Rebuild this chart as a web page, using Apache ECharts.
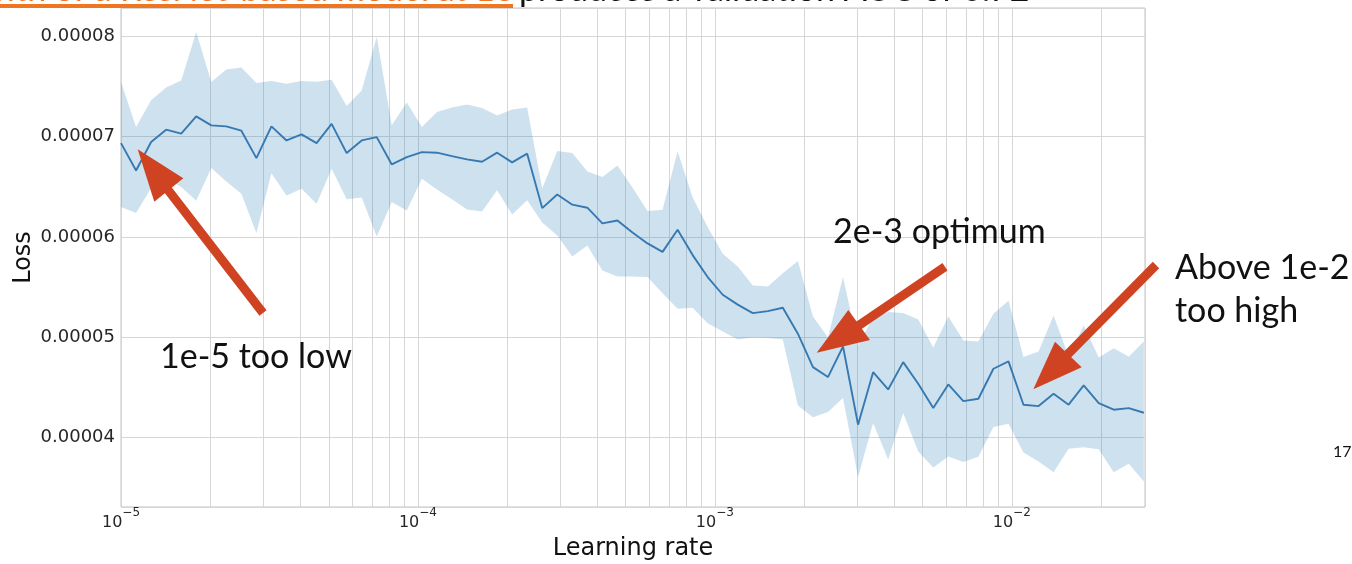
<!DOCTYPE html>
<html>
<head>
<meta charset="utf-8">
<script src="https://cdn.jsdelivr.net/npm/echarts@6.0.0/dist/echarts.min.js"></script>
<style>
  html, body { margin: 0; padding: 0; background: #fff; }
  #chart { width: 1352px; height: 564px; }
</style>
</head>
<body>
<div id="chart"></div>
<script>
// learning rates of the sweep (log spaced)
const learningRate = [
  1.000e-5, 1.124e-5, 1.263e-5, 1.419e-5, 1.595e-5, 1.792e-5, 2.014e-5, 2.263e-5, 2.543e-5, 2.858e-5,
  3.211e-5, 3.609e-5, 4.055e-5, 4.557e-5, 5.121e-5, 5.754e-5, 6.466e-5, 7.266e-5, 8.165e-5, 9.175e-5,
  1.031e-4, 1.159e-4, 1.302e-4, 1.463e-4, 1.644e-4, 1.848e-4, 2.076e-4, 2.333e-4, 2.622e-4, 2.946e-4,
  3.311e-4, 3.720e-4, 4.181e-4, 4.698e-4, 5.279e-4, 5.932e-4, 6.666e-4, 7.491e-4, 8.418e-4, 9.457e-4,
  1.063e-3, 1.194e-3, 1.342e-3, 1.508e-3, 1.694e-3, 1.904e-3, 2.140e-3, 2.404e-3, 2.702e-3, 3.036e-3,
  3.412e-3, 3.834e-3, 4.308e-3, 4.841e-3, 5.440e-3, 6.113e-3, 6.869e-3, 7.719e-3, 8.674e-3, 9.749e-3,
  1.095e-2, 1.231e-2, 1.383e-2, 1.554e-2, 1.747e-2, 1.963e-2, 2.205e-2, 2.478e-2, 2.785e-2
]

const lossMean = [
  6.934e-5, 6.662e-5, 6.946e-5, 7.068e-5, 7.028e-5, 7.200e-5, 7.111e-5, 7.101e-5, 7.058e-5, 6.785e-5,
  7.101e-5, 6.961e-5, 7.021e-5, 6.934e-5, 7.126e-5, 6.835e-5, 6.961e-5, 6.994e-5, 6.722e-5, 6.795e-5,
  6.845e-5, 6.839e-5, 6.805e-5, 6.772e-5, 6.749e-5, 6.839e-5, 6.742e-5, 6.829e-5, 6.287e-5, 6.423e-5,
  6.321e-5, 6.291e-5, 6.135e-5, 6.164e-5, 6.045e-5, 5.935e-5, 5.851e-5, 6.072e-5, 5.819e-5, 5.600e-5,
  5.424e-5, 5.326e-5, 5.241e-5, 5.261e-5, 5.295e-5, 5.036e-5, 4.703e-5, 4.604e-5, 4.909e-5, 4.130e-5,
  4.653e-5, 4.481e-5, 4.753e-5, 4.538e-5, 4.295e-5, 4.531e-5, 4.365e-5, 4.388e-5, 4.687e-5, 4.760e-5,
  4.329e-5, 4.315e-5, 4.438e-5, 4.329e-5, 4.521e-5, 4.345e-5, 4.279e-5, 4.295e-5, 4.249e-5
]

const lossUpper = [
  7.542e-5, 7.094e-5, 7.360e-5, 7.489e-5, 7.559e-5, 8.040e-5, 7.542e-5, 7.668e-5, 7.688e-5, 7.532e-5,
  7.554e-5, 7.526e-5, 7.554e-5, 7.546e-5, 7.566e-5, 7.305e-5, 7.459e-5, 7.990e-5, 7.111e-5, 7.340e-5,
  7.094e-5, 7.243e-5, 7.290e-5, 7.320e-5, 7.285e-5, 7.210e-5, 7.270e-5, 7.290e-5, 6.483e-5, 6.855e-5,
  6.835e-5, 6.652e-5, 6.596e-5, 6.712e-5, 6.493e-5, 6.257e-5, 6.271e-5, 6.852e-5, 6.396e-5, 6.098e-5,
  5.833e-5, 5.706e-5, 5.517e-5, 5.507e-5, 5.637e-5, 5.761e-5, 5.208e-5, 4.999e-5, 5.600e-5, 4.919e-5,
  5.201e-5, 5.251e-5, 5.241e-5, 5.178e-5, 4.899e-5, 5.208e-5, 4.969e-5, 4.959e-5, 5.235e-5, 5.365e-5,
  4.803e-5, 4.860e-5, 5.218e-5, 4.810e-5, 5.118e-5, 4.800e-5, 4.890e-5, 4.807e-5, 4.959e-5
]

const lossLower = [
  6.299e-5, 6.237e-5, 6.488e-5, 6.583e-5, 6.496e-5, 6.361e-5, 6.687e-5, 6.551e-5, 6.430e-5, 6.040e-5,
  6.633e-5, 6.413e-5, 6.480e-5, 6.331e-5, 6.679e-5, 6.376e-5, 6.393e-5, 6.005e-5, 6.347e-5, 6.264e-5,
  6.580e-5, 6.473e-5, 6.374e-5, 6.274e-5, 6.254e-5, 6.466e-5, 6.224e-5, 6.364e-5, 6.144e-5, 6.015e-5,
  5.806e-5, 5.915e-5, 5.666e-5, 5.607e-5, 5.607e-5, 5.600e-5, 5.440e-5, 5.285e-5, 5.295e-5, 5.139e-5,
  5.059e-5, 4.979e-5, 4.999e-5, 4.994e-5, 4.979e-5, 4.322e-5, 4.205e-5, 4.255e-5, 4.396e-5, 3.608e-5,
  4.147e-5, 3.784e-5, 4.247e-5, 3.864e-5, 3.704e-5, 3.814e-5, 3.757e-5, 3.811e-5, 4.106e-5, 4.140e-5,
  3.852e-5, 3.764e-5, 3.657e-5, 3.891e-5, 3.906e-5, 3.884e-5, 3.657e-5, 3.741e-5, 3.565e-5
]

const yTicks = [4e-5, 5e-5, 6e-5, 7e-5, 8e-5]
const xDecades = [1e-5, 1e-4, 1e-3, 1e-2]
const minorGridLr = [
  2e-5, 3e-5, 4e-5, 5e-5, 6e-5, 7e-5, 8e-5, 9e-5,
  2e-4, 3e-4, 4e-4, 5e-4, 6e-4, 7e-4, 8e-4, 9e-4,
  2e-3, 3e-3, 4e-3, 5e-3, 6e-3, 7e-3, 8e-3, 9e-3,
  2e-2
]

const gridColor = '#d6d6d6'
const arrowColor = '#cf4322'
const noteFont = 'Lato, "Open Sans", sans-serif'

function arrow(tail, neck, tip, c1, c2) {
  return [
    { type: 'line', silent: true, z: 100, shape: { x1: tail[0], y1: tail[1], x2: neck[0], y2: neck[1] },
      style: { stroke: arrowColor, lineWidth: 9 } },
    { type: 'polygon', silent: true, z: 100, shape: { points: [tip, c1, c2] }, style: { fill: arrowColor } },
  ]
}

function note(text, x, y, size) {
  return { type: 'text', silent: true, z: 100, x, y,
    style: { text, font: `${size || 34}px ${noteFont}`, fill: '#111', verticalAlign: 'middle' } }
}

const chart = echarts.init(document.getElementById('chart'))

chart.setOption({
  animation: false,
  grid: {
    left: 121, top: 8, width: 1024, height: 499,
    outerBoundsMode: 'none', containLabel: false,
    show: true, borderColor: '#c2c2c2', borderWidth: 1,
  },
  xAxis: {
    type: 'log',
    logBase: 10,
    min: 1e-5,
    max: 0.0281,
    name: 'Learning rate',
    nameLocation: 'middle',
    nameGap: 30,
    nameTextStyle: { fontFamily: 'DejaVu Sans', fontSize: 24, color: '#111' },
    axisLine: { show: false },
    axisTick: { show: false },
    splitLine: { show: true, lineStyle: { color: gridColor } },
    axisLabel: {
      margin: 0,
      showMaxLabel: false,
      color: '#262626',
      fontFamily: 'DejaVu Sans',
      formatter: (v) => {
        const hit = xDecades.find((d) => Math.abs(Math.log10(v) - Math.log10(d)) < 1e-6)
        return hit ? '{b|10}{s|\u2212' + Math.round(-Math.log10(hit)) + '}' : ''
      },
      rich: {
        b: { fontFamily: 'DejaVu Sans', fontSize: 16, lineHeight: 24, verticalAlign: 'bottom', color: '#262626' },
        s: { fontFamily: 'DejaVu Sans', fontSize: 12, lineHeight: 14, verticalAlign: 'top', color: '#262626' },
      },
    },
  },
  yAxis: {
    type: 'value',
    min: 3.31e-5,
    max: 8.28e-5,
    splitNumber: 5,
    name: 'Loss',
    nameLocation: 'middle',
    nameRotate: 90,
    nameMoveOverlap: false,
    nameGap: 85,
    nameTextStyle: { fontFamily: 'DejaVu Sans', fontSize: 24, color: '#111' },
    axisLine: { show: false },
    axisTick: { show: false },
    splitLine: { show: true, lineStyle: { color: gridColor } },
    axisLabel: {
      margin: 6,
      color: '#262626',
      fontFamily: 'DejaVu Sans',
      fontSize: 18,
      showMinLabel: false,
      showMaxLabel: false,
      formatter: (v) => {
        const hit = yTicks.find((t) => Math.abs(t - v) < 1e-9)
        return hit ? hit.toFixed(5) : ''
      },
    },
  },
  series: [
    {
      // minor (2..9) vertical grid lines of the log axis
      name: 'minor-grid',
      type: 'custom',
      silent: true,
      z: 1,
      data: minorGridLr.map((x) => [x, yTicks[0]]),
      renderItem: (params, api) => {
        const cs = params.coordSys
        const px = Math.round(api.coord([api.value(0), api.value(1)])[0]) + 0.5
        return {
          type: 'line',
          shape: { x1: px, y1: cs.y, x2: px, y2: cs.y + cs.height },
          style: { stroke: gridColor, lineWidth: 1 },
        }
      },
    },
    {
      name: 'band',
      type: 'custom',
      silent: true,
      z: 2,
      data: [[learningRate[0], lossUpper[0]]],
      renderItem: (params, api) => {
        const top = learningRate.map((x, i) => api.coord([x, lossUpper[i]]))
        const bottom = learningRate.map((x, i) => api.coord([x, lossLower[i]])).reverse()
        return {
          type: 'polygon',
          shape: { points: top.concat(bottom) },
          style: { fill: 'rgba(31,119,180,0.22)' },
        }
      },
    },
    {
      name: 'loss',
      type: 'line',
      symbol: 'none',
      lineStyle: { color: '#3679b1', width: 1.9 },
      data: learningRate.map((x, i) => [x, lossMean[i]]),
      z: 5,
    },
  ],
  graphic: [
    // cropped slide heading at the very top
    { type: 'text', silent: true, z: 100, x: 513, y: 7,
      style: { text: 'Training with of a ResNet-based model at 1e', font: `34px ${noteFont}`, fill: '#ee7623',
        align: 'right', verticalAlign: 'bottom' } },
    { type: 'rect', silent: true, z: 100, shape: { x: 0, y: 4, width: 513, height: 4 }, style: { fill: '#ee7623' } },
    { type: 'text', silent: true, z: 100, x: 519, y: 7,
      style: { text: 'produces a validation AUC of 0.72', font: `34px ${noteFont}`, fill: '#111',
        verticalAlign: 'bottom' } },

    ...arrow([263, 313], [165, 186], [137.7, 149.3], [154.3, 201.7], [183.3, 178.3]),
    ...arrow([945, 266.7], [855, 328], [816.7, 352.7], [848.3, 310], [870, 340]),
    ...arrow([1156, 265], [1065, 357], [1033.3, 389.3], [1055, 341.7], [1081.7, 367.3]),

    note('1e-5 too low', 160, 357),
    note('2e-3 optimum', 833, 232),
    note('Above 1e-2', 1175, 268),
    note('too high', 1175, 311),
    note('17', 1333, 452, 16),
  ],
})
</script>
</body>
</html>
